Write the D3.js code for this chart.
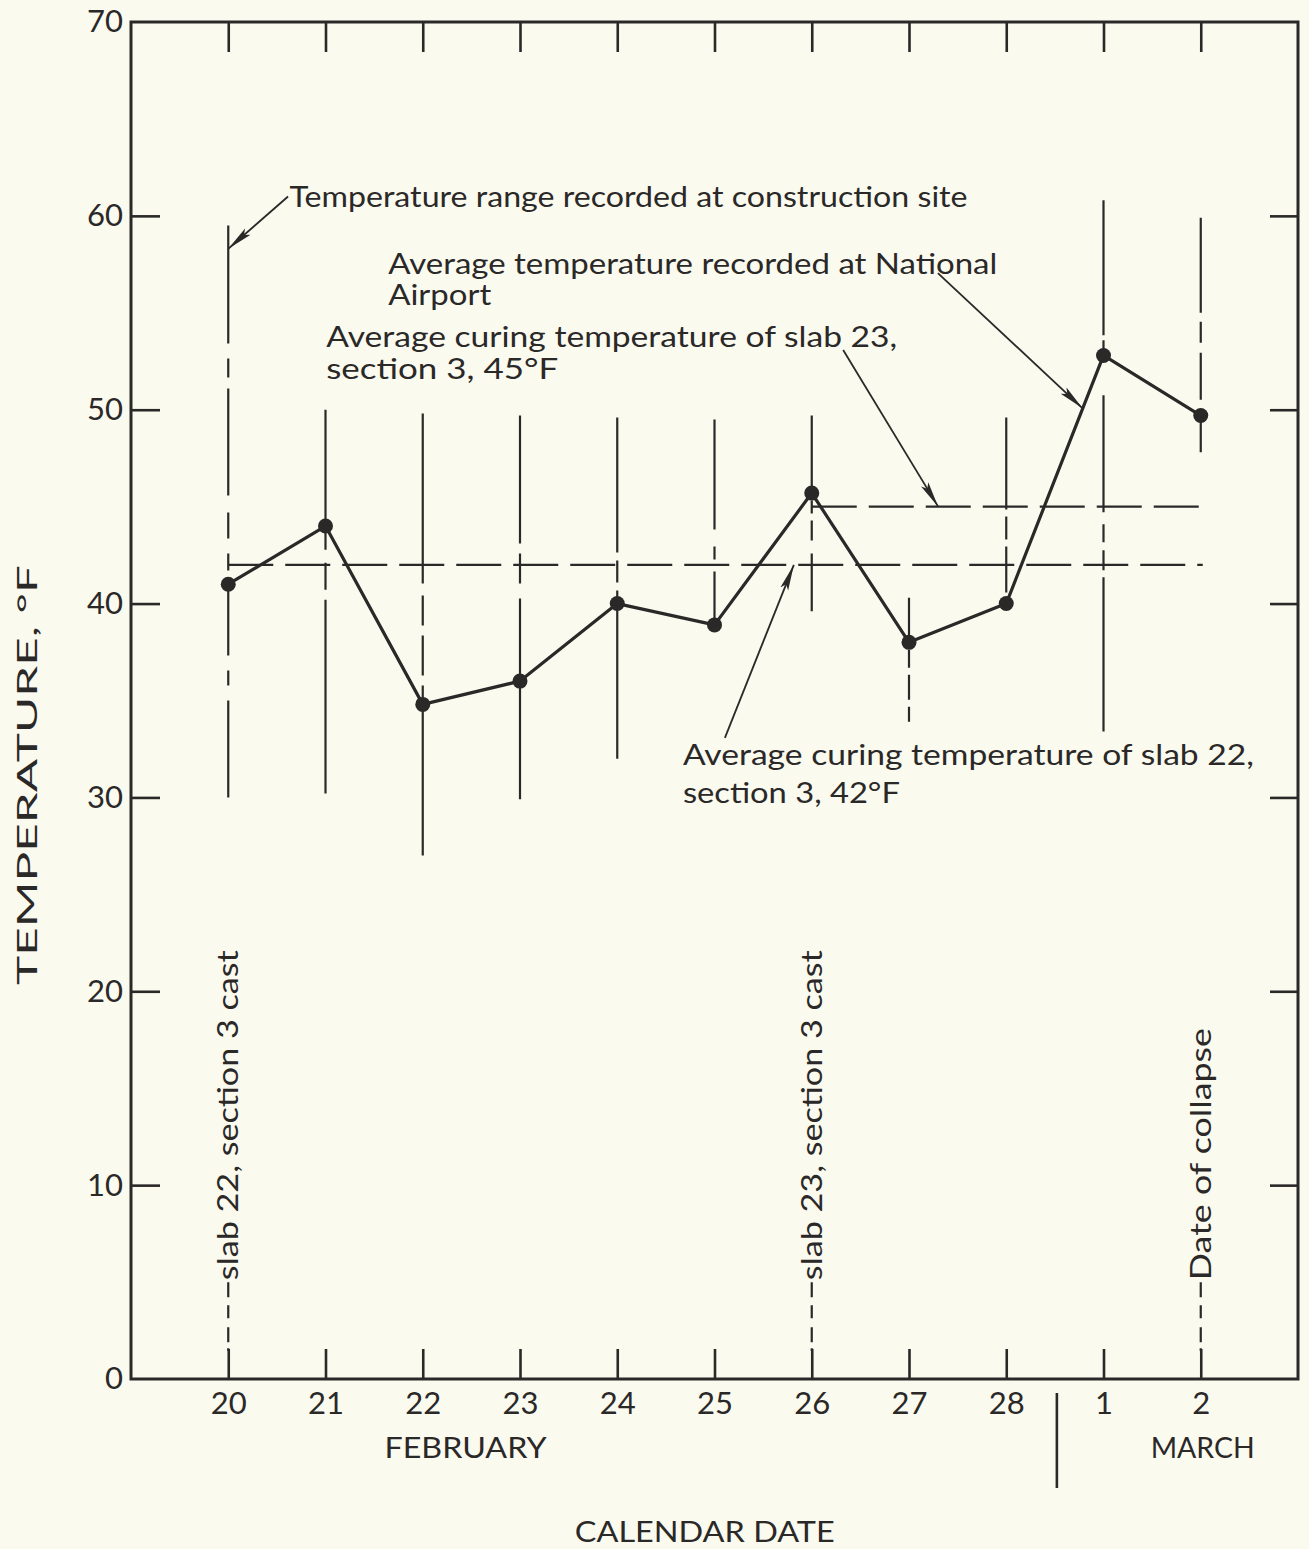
<!DOCTYPE html>
<html><head><meta charset="utf-8">
<script src="https://cdn.jsdelivr.net/npm/d3@7"></script>
<style>
html,body{margin:0;padding:0;background:#fafaef;}
svg{display:block;}
text{font-family:Lato,"Open Sans",sans-serif;fill:#2b2828;}
</style></head><body>
<svg id="chart" width="1309" height="1549"></svg>
<script>
// ---------- data ----------
const dayIndex   = [0,1,2,3,4,5,6,7,8,9,10];
const dayLabels  = ["20","21","22","23","24","25","26","27","28","1","2"];
const avgTemp    = [41,44,34.8,36,40,38.9,45.7,38,40,52.8,49.7];      // National Airport average
const rangeHigh  = [59.5,50,49.8,49.7,49.6,49.5,49.7,40.3,49.6,60.8,59.9]; // construction site range
const rangeLow   = [30,30.2,27,29.9,32,38.9,39.6,33.9,40,33.4,47.8];
const yTickValues = [0,10,20,30,40,50,60,70];
const slabAvgValues = [42,45];          // slab 22, slab 23 curing averages
const slabAvgStart  = [0,6];
const slabAvgEnd    = [10,10];
const eventDays   = [0,6,10];
const eventLabels = ["slab 22, section 3 cast","slab 23, section 3 cast","Date of collapse"];
const monthLabels = ["FEBRUARY","MARCH"];
const monthCenters = [2.44,10.02];
const monthDivider = 8.5;

// ---------- styles ----------
const ink = "#2b2828";
const W = 1309, H = 1549;
const m = {left:131, top:22, right:11, bottom:170};
const iw = W - m.left - m.right, ih = H - m.top - m.bottom;
const rangeDash = [
  "118,15,19,11,107,17,26,15,17,13,72,15,15,15,200",
  "140,13,27,10,400",
  "170,12,30,10,40,10,500",
  "128,10,30,15,400",
  "135,8,22,8,400",
  "110,17,13,12,200",
  "72,13,13,7,20,13,200",
  "39,13,18,7,25,7,60",
  "92,7,23,7,46,10,60",
  "135,5,18,37,117,12,18,8,20,7,300",
  "95,9,21,10,47,10,100"
];

const svg = d3.select("#chart");
svg.append("rect").attr("width",W).attr("height",H).attr("fill","#fafaef");
const g = svg.append("g").attr("transform",`translate(${m.left},${m.top})`);

const x = d3.scaleLinear().domain([-1,11]).range([0,iw]);
const y = d3.scaleLinear().domain([0,70]).range([ih,0]);

function fit(sel, w){
  sel.attr("textLength", w).attr("lengthAdjust","spacingAndGlyphs");
}

// axes
const axL = g.append("g").call(d3.axisLeft(y).tickValues(yTickValues).tickSizeInner(-29).tickSizeOuter(0).tickPadding(8));
axL.selectAll(".tick line").filter(d=>d===0||d===70).remove();
const axR = g.append("g").attr("transform",`translate(${iw},0)`)
  .call(d3.axisRight(y).tickValues(yTickValues.filter(d=>d>0&&d<70)).tickSizeInner(-28).tickSizeOuter(0).tickFormat(""));
const axT = g.append("g").call(d3.axisTop(x).tickValues(dayIndex).tickSizeInner(-30).tickSizeOuter(0).tickFormat(""));
const axB = g.append("g").attr("transform",`translate(0,${ih})`)
  .call(d3.axisBottom(x).tickValues(dayIndex).tickSizeInner(-30).tickSizeOuter(0).tickPadding(13).tickFormat(i=>dayLabels[i]));
[axL,axR,axT,axB].forEach(a=>{
  a.select(".domain").remove();
  a.selectAll(".tick line").attr("stroke",ink).attr("stroke-width",2.6);
  a.selectAll("text").attr("font-size",31).attr("fill",ink).attr("font-family","Lato, sans-serif");
});
g.append("rect").attr("x",0).attr("y",0).attr("width",iw).attr("height",ih)
  .attr("fill","none").attr("stroke",ink).attr("stroke-width",3);

// range lines
g.append("g").selectAll("line").data(dayIndex).join("line")
  .attr("x1",i=>x(i)).attr("x2",i=>x(i))
  .attr("y1",i=>y(rangeHigh[i])).attr("y2",i=>y(rangeLow[i]))
  .attr("stroke",ink).attr("stroke-width",2.2)
  .attr("stroke-dasharray",i=>rangeDash[i]);

// average curing temperature lines
g.append("g").selectAll("line").data(slabAvgValues).join("line")
  .attr("x1",(d,i)=>x(slabAvgStart[i])).attr("x2",(d,i)=>x(slabAvgEnd[i])+2)
  .attr("y1",d=>y(d)).attr("y2",d=>y(d))
  .attr("stroke",ink).attr("stroke-width",2.2).attr("stroke-dasharray","45,12");

// average temperature line & points
g.append("path").datum(dayIndex)
  .attr("d",d3.line().x(i=>x(i)).y(i=>y(avgTemp[i])))
  .attr("fill","none").attr("stroke",ink).attr("stroke-width",3.2).attr("stroke-linejoin","round");
g.append("g").selectAll("circle").data(dayIndex).join("circle")
  .attr("cx",i=>x(i)).attr("cy",i=>y(avgTemp[i])).attr("r",7.5).attr("fill",ink);

// event markers (dashed connectors + vertical labels)
const evLabelStart = 5.1;
g.append("g").selectAll("line").data(eventDays).join("line")
  .attr("x1",d=>x(d)).attr("x2",d=>x(d))
  .attr("y1",y(evLabelStart)+2).attr("y2",ih-28)
  .attr("stroke",ink).attr("stroke-width",2.2).attr("stroke-dasharray","15,8,13,9,15,6,40");
g.append("g").selectAll("text").data(eventDays).join("text")
  .attr("transform",d=>`translate(${x(d)},${y(evLabelStart)}) rotate(-90)`)
  .attr("dy","0.36em").attr("font-size",28)
  .text((d,i)=>eventLabels[i])
  .each(function(d,i){ fit(d3.select(this), [330,330,252][i]); });

// arrow marker
svg.append("defs").append("marker").attr("id","arr")
  .attr("viewBox","0 0 26 10").attr("refX",26).attr("refY",5)
  .attr("markerWidth",26).attr("markerHeight",10).attr("markerUnits","userSpaceOnUse")
  .attr("orient","auto")
  .append("path").attr("d","M0,0.8 L26,5 L0,9.2 L5,5 Z").attr("fill",ink);

// annotations
const annotations = [
  {lines:["Temperature range recorded at construction site"], x:0.63, y:[60.45], w:[678],
   from:[0.615,61.0], to:[0,58.3]},
  {lines:["Average temperature recorded at National","Airport"], x:1.645, y:[57.0,55.4], w:[609,103],
   from:[7.297,57.05], to:[8.785,50.07]},
  {lines:["Average curing temperature of slab 23,","section 3, 45°F"], x:1.0075, y:[53.23,51.58], w:[571,232],
   from:[6.323,53.08], to:[7.30,45]},
  {lines:["Average curing temperature of slab 22,","section 3, 42°F"], x:4.675, y:[31.68,29.7], w:[571,217],
   from:[5.107,33.07], to:[5.816,42]}
];
annotations.forEach(a=>{
  a.lines.forEach((t,k)=>{
    const tx = g.append("text").attr("x",x(a.x)).attr("y",y(a.y[k])).attr("font-size",28).text(t);
    fit(tx,a.w[k]);
  });
  g.append("line").attr("x1",x(a.from[0])).attr("y1",y(a.from[1]))
    .attr("x2",x(a.to[0])).attr("y2",y(a.to[1]))
    .attr("stroke",ink).attr("stroke-width",1.8).attr("marker-end","url(#arr)");
});

// month labels and divider
g.append("g").selectAll("text").data(monthLabels).join("text")
  .attr("x",(d,i)=>x(monthCenters[i])).attr("y",ih+79).attr("text-anchor","middle")
  .attr("font-size",28).text(d=>d)
  .each(function(d,i){ fit(d3.select(this),[162,104][i]); });
g.append("line").attr("x1",x(monthDivider)+2).attr("x2",x(monthDivider)+2)
  .attr("y1",ih+14).attr("y2",ih+109).attr("stroke",ink).attr("stroke-width",2.6);

// axis titles
const xt = g.append("text").attr("x",x(4.9)).attr("y",ih+163).attr("text-anchor","middle")
  .attr("font-size",28).text("CALENDAR DATE");
fit(xt,260);
const yt = svg.append("text").attr("transform","translate(37,775) rotate(-90)")
  .attr("text-anchor","middle").attr("font-size",26).text("TEMPERATURE, °F");
fit(yt,420);
</script>
</body></html>
